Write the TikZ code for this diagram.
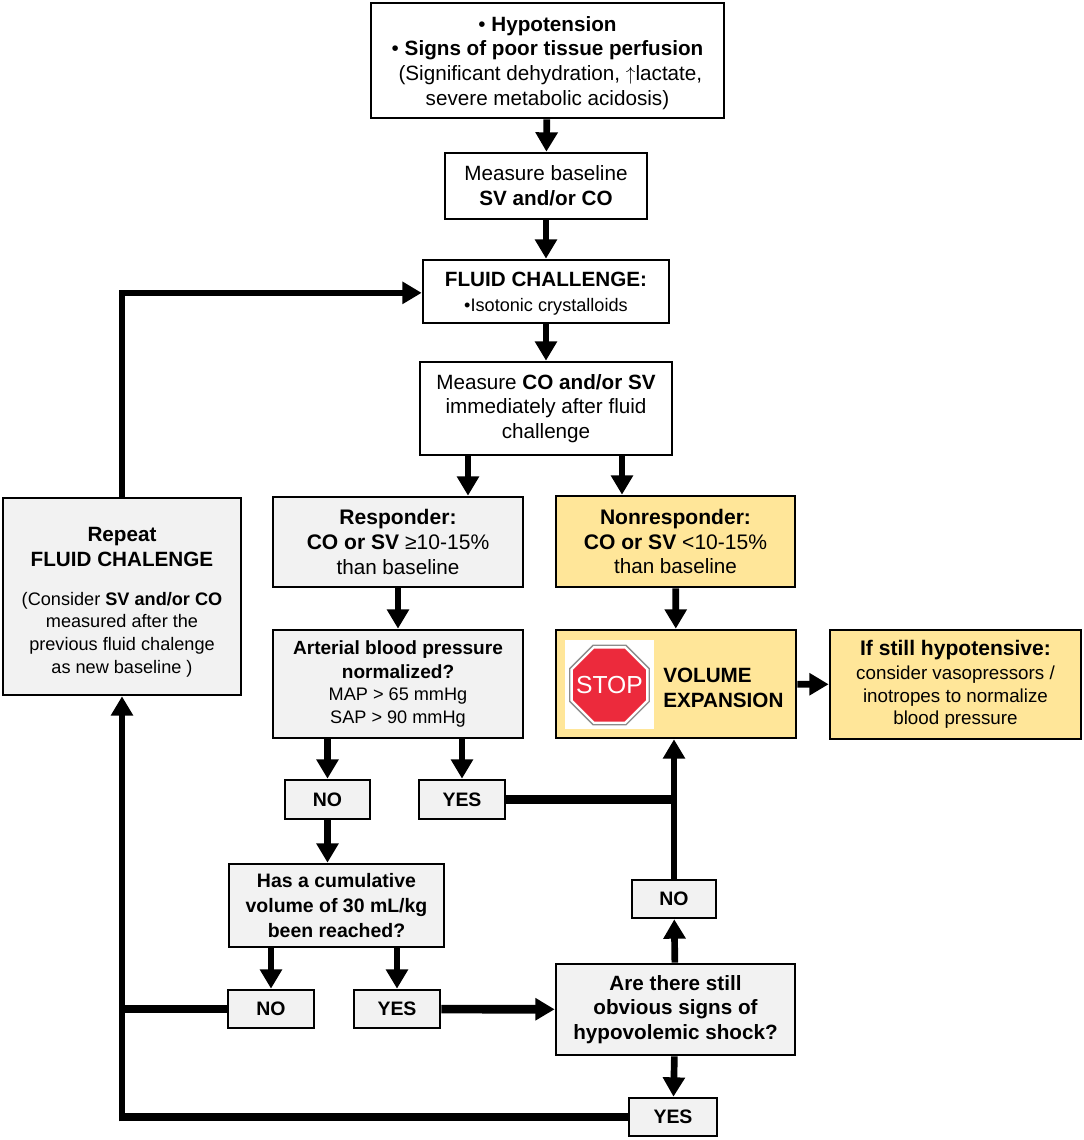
\documentclass[tikz,border=0pt]{standalone}
\usepackage{fontspec}
\setmainfont{Liberation Sans}
\usetikzlibrary{arrows.meta,shapes.geometric}

\definecolor{boxgray}{HTML}{F2F2F2}
\definecolor{boxyellow}{HTML}{FFE699}
\definecolor{stopred}{HTML}{EC2A3C}

\newcommand{\largetext}{\fontsize{15.5}{18.6}\selectfont}
\newcommand{\headtext}{\fontsize{15.8}{18.6}\selectfont}
\newcommand{\smalltext}{\fontsize{13.6}{17}\selectfont}

\tikzset{
  flowbox/.style 2 args={draw=black,line width=2pt,fill=white,align=center,inner sep=0pt,
    minimum width=#1*0.75pt,minimum height=#2*0.75pt,font=\largetext},
  graybox/.style={fill=boxgray},
  yellowbox/.style={fill=boxyellow},
  flow/.style={line width=5pt,-{Triangle[width=16pt,length=14.5pt]}},
  flowline/.style={line width=6.5pt},
  thickflow/.style={line width=6.5pt,-{Triangle[width=16pt,length=14.5pt]}}
}

\begin{document}
\begin{tikzpicture}[x=0.75pt,y=-0.75pt]
\useasboundingbox (0,0) rectangle (1084,1140);

% central column
\node[flowbox={353}{115}] (signs) at (547.5,60.5) {\rule{0pt}{15pt}\textbullet\ \textbf{Hypotension}\\
  \textbullet\ \textbf{Signs of poor tissue perfusion}\\
  \ (Significant dehydration, $\big\uparrow$lactate,\\severe metabolic acidosis)};
\node[flowbox={202}{66}] (baseline) at (546,186) {Measure baseline\\\textbf{SV and/or CO}};
\node[flowbox={246}{63}] (fluid) at (546,291.5) {\rule{0pt}{14pt}\textbf{FLUID CHALLENGE:}\\\smalltext\textbullet Isotonic crystalloids};
\node[flowbox={252}{93}] (after) at (546,408.5) {Measure \textbf{CO and/or SV}\\immediately after fluid\\challenge};

% left part
\node[flowbox={238}{197},graybox,font=\smalltext] (repeat) at (122,596.5) {\rule{0pt}{19pt}\largetext\textbf{Repeat}\\[1.8pt]
  \largetext\textbf{FLUID CHALENGE}\\[12pt]
  (Consider \textbf{SV and/or CO}\\measured after the\\previous fluid chalenge\\as new baseline )};
\node[flowbox={250}{90},graybox] (resp) at (398,542) {\headtext\textbf{Responder:}\\\headtext\textbf{CO or SV} ≥10-15\%\\than baseline};
\node[flowbox={250}{108},graybox,font=\smalltext] (pressure) at (398,684) {\fontsize{14.3}{17}\selectfont\textbf{Arterial blood pressure}\\[.5pt]
  \fontsize{14.3}{17}\selectfont\textbf{normalized?}\\MAP > 65 mmHg\\SAP > 90 mmHg};
\node[flowbox={85}{39},graybox,font=\fontsize{14.6}{18}\selectfont] (no1) at (327.5,799.5) {\textbf{NO}};
\node[flowbox={86}{39},graybox,font=\fontsize{14.6}{18}\selectfont] (yes1) at (462,799.5) {\textbf{YES}};
\node[flowbox={215}{83},graybox,font=\fontsize{14.6}{18.6}\selectfont] (cumul) at (336.5,905.5) {\textbf{Has a cumulative}\\\textbf{volume of 30 mL/kg}\\\textbf{been reached?}};
\node[flowbox={86}{38},graybox,font=\fontsize{14.6}{18}\selectfont] (no2) at (271,1009) {\textbf{NO}};
\node[flowbox={86}{38},graybox,font=\fontsize{14.6}{18}\selectfont] (yes2) at (397,1009) {\textbf{YES}};

% right part
\node[flowbox={239}{91},yellowbox] (nonresp) at (675.5,541.5) {\headtext\textbf{Nonresponder:}\\\headtext\textbf{CO or SV} <10-15\%\\than baseline};
\node[flowbox={240}{108},yellowbox] (stopbox) at (676,684) {};
\node[fill=white,minimum size=89*0.75pt,inner sep=0pt] (stopbg) at (609.5,684.5) {};
\node[regular polygon,regular polygon sides=8,draw=black!45,line width=1pt,fill=white,
  inner sep=0pt,minimum size=86*0.75pt] (stoprim) at (609.5,685) {};
\node[regular polygon,regular polygon sides=8,fill=stopred,inner sep=0pt,
  minimum size=79*0.75pt] (stopsign) at (609.5,685) {};
\node[text=white,inner sep=0pt,font=\fontsize{18.5}{20}\selectfont] (stoptext) at (stopsign) {STOP};
\node[anchor=west,align=left,inner sep=0pt,font=\largetext\bfseries] (stoplabel) at (663,688) {VOLUME\\EXPANSION};
\node[flowbox={251}{109},yellowbox,font=\fontsize{14.1}{17}\selectfont] (still) at (955.5,684.5) {\headtext\textbf{If still hypotensive:}\\[1pt]
  consider vasopressors /\\inotropes to normalize\\blood pressure};
\node[flowbox={84}{38},graybox,font=\fontsize{14.6}{18}\selectfont] (no3) at (674,899) {\textbf{NO}};
\node[flowbox={239}{91},graybox] (shock) at (675.5,1009.5) {\textbf{Are there still}\\\textbf{obvious signs of}\\\textbf{hypovolemic shock?}};
\node[flowbox={88}{38},graybox,font=\fontsize{14.6}{18}\selectfont] (yes3) at (673,1117) {\textbf{YES}};

% arrows down the middle
\draw[flow] (signs) -- (baseline);
\draw[flow] (baseline) -- (fluid);
\draw[flow] (fluid) -- (after);
\draw[flow] ([xshift=-58.5pt]after.south) -- ([xshift=-58.5pt]after.south |- resp.north);
\draw[flow] ([xshift=57pt]after.south) -- ([xshift=57pt]after.south |- nonresp.north);
\draw[flow] (resp) -- (pressure);
\draw[flow] (nonresp) -- (stopbox);
\draw[flow] (stopbox) -- (still);
\draw[flow] (pressure.south -| no1) -- (no1);
\draw[flow] (pressure.south -| yes1) -- (yes1);
\draw[flow] (no1) -- (no1 |- cumul.north);
\draw[flow] (cumul.south -| no2) -- (no2);
\draw[flow] (cumul.south -| yes2) -- (yes2);
\draw[thickflow] (yes2) -- (shock);
\draw[flow] (shock) -- (no3);
\draw[flow] (shock) -- (yes3);
\draw[flow] (no3) -- (no3 |- stopbox.south);
\draw[flowline] (yes1) -- (yes1 -| no3);

% loops back
\draw[flow] (repeat) |- ([yshift=-1pt]fluid.west);
\draw[flowline] (yes3) -- (yes3 -| repeat);
\draw[flow] ([yshift=-3.25pt]yes3 -| repeat) -- (repeat);
\draw[flowline] (no2) -- (no2 -| repeat);
\end{tikzpicture}
\end{document}
